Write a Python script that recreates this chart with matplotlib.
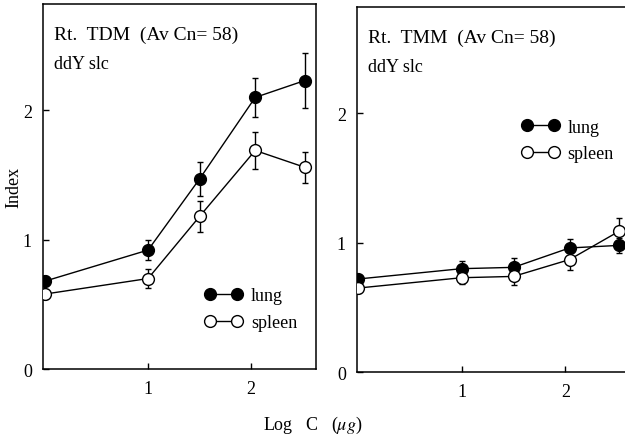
import matplotlib
matplotlib.use("Agg")
import matplotlib.pyplot as plt
from matplotlib.lines import Line2D

plt.rcParams["font.family"] = ["Liberation Serif", "DejaVu Serif"]
plt.rcParams["mathtext.fontset"] = "stix"

# log dose positions
log_c = [0.0, 1.0, 1.5, 2.04, 2.52]

# Rt. TDM panel
tdm_lung = [0.68, 0.92, 1.47, 2.10, 2.23]
tdm_lung_err = [0.04, 0.08, 0.13, 0.15, 0.21]
tdm_spleen = [0.58, 0.70, 1.18, 1.69, 1.56]
tdm_spleen_err = [0.04, 0.075, 0.12, 0.14, 0.12]

# Rt. TMM panel
tmm_lung = [0.72, 0.80, 0.81, 0.96, 0.98]
tmm_lung_err = [0.03, 0.06, 0.07, 0.07, 0.06]
tmm_spleen = [0.65, 0.73, 0.74, 0.87, 1.09]
tmm_spleen_err = [0.04, 0.05, 0.07, 0.08, 0.10]

panels = [
    ("Rt.  TDM  (Av Cn= 58)", tdm_lung, tdm_lung_err, tdm_spleen, tdm_spleen_err),
    ("Rt.  TMM  (Av Cn= 58)", tmm_lung, tmm_lung_err, tmm_spleen, tmm_spleen_err),
]

fig = plt.figure(figsize=(6.25, 4.39), dpi=100)
ax1 = fig.add_axes([0.0688, 0.157, 0.4368, 0.831])
ax2 = fig.add_axes([0.5712, 0.150, 0.4528, 0.831])
axes = [ax1, ax2]
xlims = [(-0.02, 2.63), (-0.01, 2.72)]
legend_pos = [(0.56, 0.25), (0.55, 0.72)]

for ax, (title, lung, lung_err, spleen, spleen_err), xl, lp in zip(axes, panels, xlims, legend_pos):
    ax.errorbar(log_c, lung, yerr=lung_err, color="black", marker="o", ms=8.5,
                mfc="black", mec="black", lw=1.0, elinewidth=1.0, capsize=2,
                zorder=3)
    ax.errorbar(log_c, spleen, yerr=spleen_err, color="black", marker="o", ms=8.5,
                mfc="white", mec="black", lw=1.0, elinewidth=1.0, capsize=2,
                zorder=4)
    ax.set_xlim(*xl)
    ax.set_ylim(0, 2.82)
    ax.set_xticks([1, 2])
    ax.set_yticks([0, 1, 2])
    ax.set_xticklabels(["1", "2"])
    ax.set_yticklabels(["0", "1", "2"])
    ax.tick_params(direction="in", length=4, width=1, labelsize=13, pad=8)
    for s in ax.spines.values():
        s.set_linewidth(1.1)
    ax.text(0.04, 0.905, title, transform=ax.transAxes, fontsize=14)
    ax.text(0.04, 0.825, "ddY slc", transform=ax.transAxes, fontsize=13)
    handles = [
        Line2D([], [], color="black", marker="o", ms=8.5, mfc="black", mec="black", lw=1.0),
        Line2D([], [], color="black", marker="o", ms=8.5, mfc="white", mec="black", lw=1.0),
    ]
    ax.legend(handles, ["lung", "spleen"], loc="upper left", bbox_to_anchor=lp,
              frameon=False, numpoints=2, handlelength=2.1, handletextpad=0.45,
              labelspacing=0.55, fontsize=13, borderpad=0)

ax2.spines["right"].set_visible(False)
ax1.set_ylabel("Index", fontsize=13, labelpad=0)
fig.text(0.50, 0.02, "Log   C   ($\\mu g$)", ha="center", fontsize=13)

fig.savefig("out.png", dpi=100)
